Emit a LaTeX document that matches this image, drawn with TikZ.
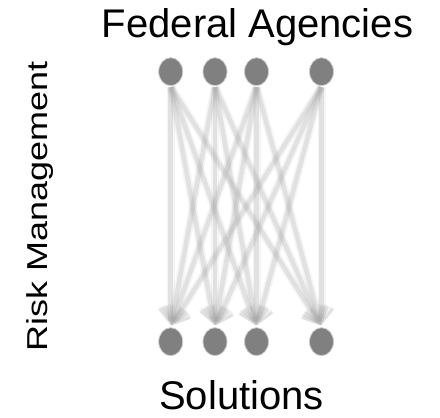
\documentclass[tikz,border=0pt]{standalone}
\usepackage{fontspec}
\setmainfont{Liberation Sans}
\usetikzlibrary{arrows.meta,shapes.geometric}
\begin{document}
\begin{tikzpicture}[x=1pt,y=-1pt,
  agent/.style={ellipse,draw=black!20,line width=0.8pt,fill=black!50,minimum width=24pt,minimum height=28pt,inner sep=0pt},
  flowhalo/.style={draw=black!40,line width=8pt,opacity=0.10,shorten <=1pt,shorten >=2pt,
    -{Straight Barb[length=14pt,width=22pt,line width=5pt]}},
  flow/.style={draw=black!35,line width=4.5pt,opacity=0.25,shorten <=1pt,shorten >=2pt,
    -{Straight Barb[length=14pt,width=22pt,line width=3pt]}},
  lbl/.style={font=\fontsize{40}{48}\selectfont,inner sep=0pt,anchor=base}]
\path[use as bounding box] (0,0) rectangle (440,418);
\node[lbl] (title) at (257.5,37.7) {Federal Agencies};
\node[lbl] (sol) at (241.5,409.5) {Solutions};
\node[lbl,rotate=90,font=\fontsize{36}{44}\selectfont] (risk) at (47,206) {\scalebox{1}[0.8]{Risk Management}};
\foreach \n/\x in {1/170.7,2/215,3/256.5,4/321.5}{
  \node[agent] (t\n) at (\x,71.7) {};
  \node[agent] (b\n) at (\x,341.7) {};
}
\foreach \i in {1,2,3,4}{
  \foreach \j in {1,2,3,4}{
    \draw[flowhalo] (t\i.south) -- (b\j.north);
    \draw[flow] (t\i.south) -- (b\j.north);
  }
}
\end{tikzpicture}
\end{document}
